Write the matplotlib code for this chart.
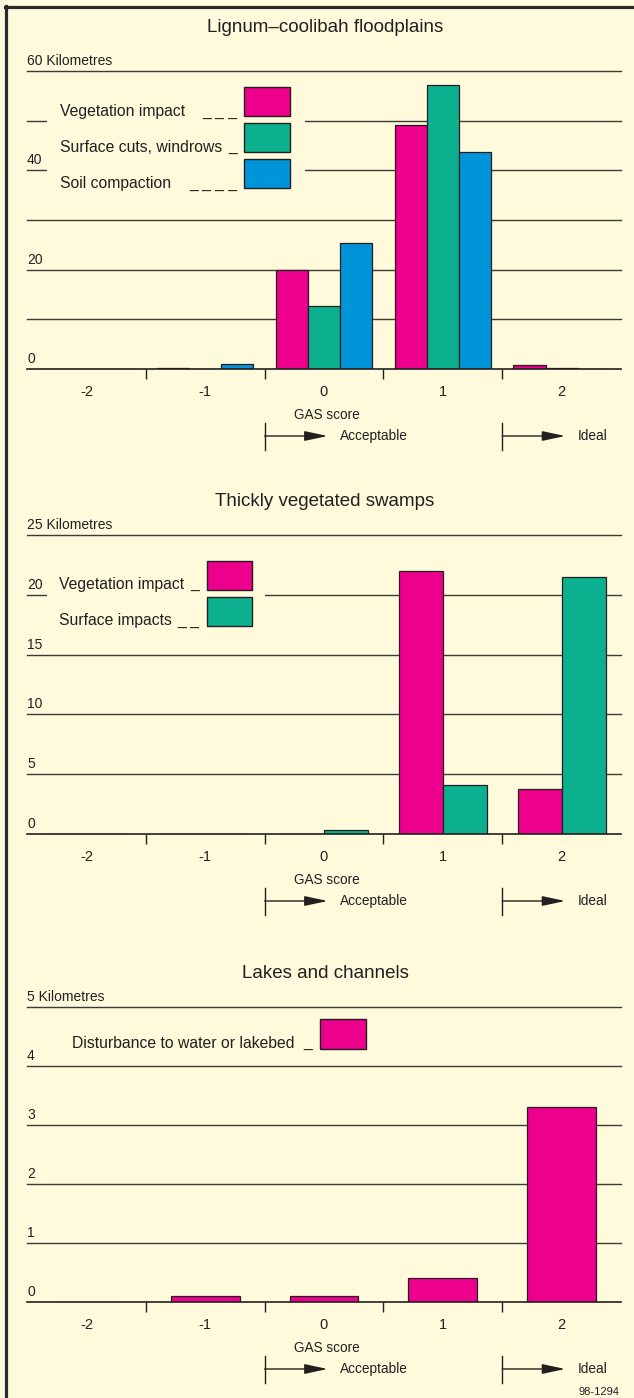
import matplotlib
matplotlib.use("Agg")
import matplotlib.pyplot as plt
import matplotlib.transforms as mtransforms
from matplotlib.patches import Rectangle
from matplotlib.lines import Line2D
import numpy as np

plt.rcParams['font.family'] = ['Liberation Sans', 'DejaVu Sans']

# ---------------- data ----------------
categories = [-2, -1, 0, 1, 2]
cat_labels = ['-2', '-1', '0', '1', '2']
x_label = 'GAS score'
band_labels = ['Acceptable', 'Ideal']
band_starts = [-0.5, 1.5]

flood_title = 'Lignum\u2013coolibah floodplains'
flood_series = ['Vegetation impact', 'Surface cuts, windrows', 'Soil compaction']
flood_dashes = ['_ _ _', '_', '_ _ _ _']
flood_veg = [0.0, 0.3, 20.0, 49.1, 0.8]
flood_surf = [0.0, 0.0, 12.6, 57.2, 0.3]
flood_soil = [0.0, 1.1, 25.3, 43.7, 0.1]
flood_grid = [10, 20, 30, 40, 50, 60]
flood_ytick_vals = [0, 20, 40, 60]
flood_ytick_labels = ['0', '20', '40', '60 Kilometres']

swamp_title = 'Thickly vegetated swamps'
swamp_series = ['Vegetation impact', 'Surface impacts']
swamp_dashes = ['_', '_ _']
swamp_veg = [0.0, 0.0, 0.0, 22.0, 3.8]
swamp_surf = [0.0, 0.0, 0.3, 4.1, 21.5]
swamp_grid = [5, 10, 15, 20, 25]
swamp_ytick_vals = [0, 5, 10, 15, 20, 25]
swamp_ytick_labels = ['0', '5', '10', '15', '20', '25 Kilometres']

lake_title = 'Lakes and channels'
lake_series = ['Disturbance to water or lakebed']
lake_dashes = ['_']
lake_dist = [0.0, 0.1, 0.1, 0.4, 3.3]
lake_grid = [1, 2, 3, 4, 5]
lake_ytick_vals = [0, 1, 2, 3, 4, 5]
lake_ytick_labels = ['0', '1', '2', '3', '4', '5 Kilometres']

figure_code = '98-1294'

# ---------------- style ----------------
BG = '#FFFADC'
DARK = '#231F20'
GRID = '#3C3A36'
MAGENTA = '#EC008C'
GREEN = '#0DB08E'
BLUE = '#0094D9'

W, H = 634, 1398
fig = plt.figure(figsize=(W / 100, H / 100), dpi=100, facecolor=BG)


def fx(px):
    return px / W


def fy(py):
    return 1 - py / H


# frame (top and left)
fig.add_artist(Line2D([fx(5), fx(634)], [fy(7), fy(7)], color='#2B2B2B', lw=2.3,
                      transform=fig.transFigure))
fig.add_artist(Line2D([fx(5.5), fx(5.5)], [fy(6), fy(1398)], color='#2B2B2B', lw=2.3,
                      transform=fig.transFigure))


def make_panel(top, bottom, ymax, title, title_y, grid_vals, ytick_vals, ytick_labels,
               series_vals, series_colors, width, offsets, cover, legend_spec):
    ax = fig.add_axes([fx(27), fy(bottom), (621 - 27) / W, (bottom - top) / H])
    ax.set_facecolor('none')
    ax.set_xlim(-2.5, 2.5)
    ax.set_ylim(0, ymax)
    for s in ['top', 'left', 'right']:
        ax.spines[s].set_visible(False)
    ax.spines['bottom'].set_color(DARK)
    ax.spines['bottom'].set_linewidth(1.2)
    ax.spines['bottom'].set_zorder(4)
    ax.set_yticks([])
    ax.set_xticks(categories, labels=cat_labels)
    ax.set_xticks([-1.5, -0.5, 0.5, 1.5], minor=True)
    ax.tick_params(axis='x', which='major', length=0, pad=11.5, labelsize=10.5, labelcolor=DARK)
    ax.tick_params(axis='x', which='minor', length=7.5, width=1.0, color=DARK, direction='out')

    # gridlines
    for v in grid_vals:
        ax.axhline(v, color=GRID, lw=1.0, zorder=1, clip_on=False)
    if cover is not None:
        (cx0, cx1, cy0, cy1) = cover
        ax.add_patch(Rectangle((cx0, cy0), cx1 - cx0, cy1 - cy0, facecolor=BG,
                               edgecolor='none', zorder=1.5))

    # y labels above the gridlines
    ytrans = mtransforms.offset_copy(
        mtransforms.blended_transform_factory(ax.transAxes, ax.transData),
        fig=fig, x=0, y=6, units='dots')
    for v, lab in zip(ytick_vals, ytick_labels):
        ax.text(0, v, lab, transform=ytrans, ha='left', va='baseline',
                fontsize=10, color=DARK)

    # bars
    x = np.array(categories, dtype=float)
    for vals, col, off in zip(series_vals, series_colors, offsets):
        ax.bar(x + off, vals, width=width, color=col, edgecolor=DARK,
               linewidth=0.9, zorder=3)

    # title
    fig.text(fx(325), fy(title_y), title, ha='center', va='center', fontsize=13.5, color=DARK)

    # below-axis annotations
    bt = mtransforms.blended_transform_factory(ax.transData, fig.transFigure)
    ax.text(0.02, fy(bottom + 46), x_label, transform=bt, ha='center', va='center',
            fontsize=9.8, color=DARK, clip_on=False)
    for start, lab in zip(band_starts, band_labels):
        ax.add_line(Line2D([start, start], [fy(bottom + 54), fy(bottom + 81)],
                           transform=bt, color=DARK, lw=1.0, clip_on=False))
        ax.annotate('', xy=(start + 0.53, fy(bottom + 67)), xycoords=bt,
                    xytext=(start, fy(bottom + 67)), textcoords=bt,
                    arrowprops=dict(arrowstyle='-|>,head_length=1.4,head_width=0.3',
                                    color=DARK, lw=1.0, shrinkA=0, shrinkB=0,
                                    mutation_scale=10), annotation_clip=False)
        ax.text(start + 0.635, fy(bottom + 67), lab, transform=bt, ha='left', va='center',
                fontsize=9.8, color=DARK, clip_on=False)

    # legend (text + swatches)
    for (lab, dash, tx, base, bx0, bx1, by0, by1, dash_right, col) in legend_spec:
        fig.text(fx(tx), fy(base), lab, ha='left', va='baseline', fontsize=11.3, color=DARK)
        fig.text(fx(dash_right), fy(base), dash, ha='right', va='baseline', fontsize=11.3,
                 color=DARK)
        fig.add_artist(Rectangle((fx(bx0), fy(by1)), fx(bx1) - fx(bx0), fy(by0) - fy(by1),
                                 facecolor=col, edgecolor=DARK, lw=1.0,
                                 transform=fig.transFigure))
    return ax


# Panel 1
flood_legend = [
    (flood_series[0], flood_dashes[0], 60, 116, 244, 290, 87, 116, 237, MAGENTA),
    (flood_series[1], flood_dashes[1], 60, 152, 244, 290, 123, 152, 237, GREEN),
    (flood_series[2], flood_dashes[2], 60, 188, 244, 290, 159, 188, 237, BLUE),
]
make_panel(71, 369, 60, flood_title, 28, flood_grid, flood_ytick_vals, flood_ytick_labels,
           [flood_veg, flood_surf, flood_soil], [MAGENTA, GREEN, BLUE],
           0.27, [-0.27, 0.0, 0.27], (-2.33, -0.16, 35, 57), flood_legend)

# Panel 2
swamp_legend = [
    (swamp_series[0], swamp_dashes[0], 59, 589, 207, 252, 561, 590, 199, MAGENTA),
    (swamp_series[1], swamp_dashes[1], 59, 625, 207, 252, 597, 626, 199, GREEN),
]
make_panel(535, 834, 25, swamp_title, 501, swamp_grid, swamp_ytick_vals, swamp_ytick_labels,
           [swamp_veg, swamp_surf], [MAGENTA, GREEN],
           0.37, [-0.185, 0.185], (-2.33, -0.5, 17, 23), swamp_legend)

# Panel 3
lake_legend = [
    (lake_series[0], lake_dashes[0], 72, 1048, 320, 366, 1019, 1049, 312, MAGENTA),
]
make_panel(1007, 1302, 5, lake_title, 973, lake_grid, lake_ytick_vals, lake_ytick_labels,
           [lake_dist], [MAGENTA], 0.58, [0.0], None, lake_legend)

fig.text(fx(619), fy(1392), figure_code, ha='right', va='center', fontsize=8, color=DARK)

fig.savefig('out.png', dpi=100, facecolor=BG)
